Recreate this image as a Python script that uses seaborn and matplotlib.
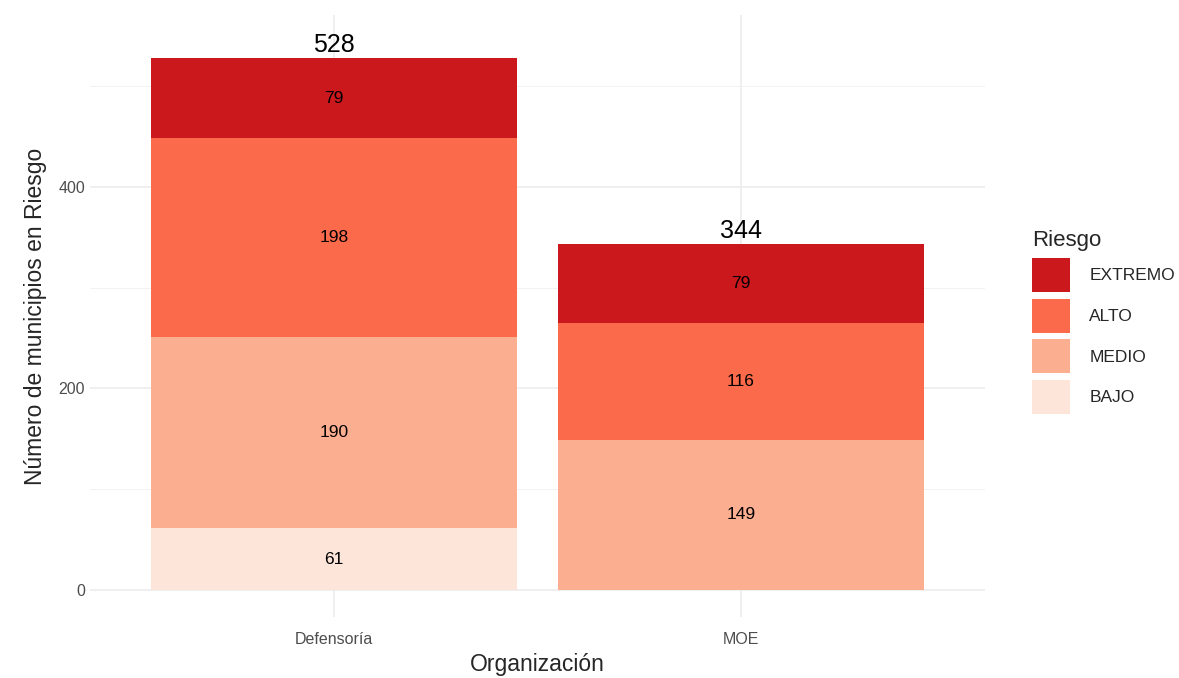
import pandas as pd
import seaborn as sns
import numpy as np
import matplotlib
matplotlib.use('Agg')
import matplotlib.pyplot as plt
from matplotlib.ticker import MultipleLocator

# Data
organizaciones = ['Defensoría', 'MOE']
niveles = ['EXTREMO', 'ALTO', 'MEDIO', 'BAJO']
bajo = [61, 0]
medio = [190, 149]
alto = [198, 116]
extremo = [79, 79]
colores = ['#CB181D', '#FB6A4A', '#FCAE91', '#FEE5D9']

df = pd.DataFrame({
    'Organizacion': organizaciones * 4,
    'Riesgo': ['BAJO'] * 2 + ['MEDIO'] * 2 + ['ALTO'] * 2 + ['EXTREMO'] * 2,
    'n': bajo + medio + alto + extremo,
})

sns.set_style('white')
plt.rcParams['font.family'] = ['Liberation Sans', 'DejaVu Sans']

fig = plt.figure(figsize=(11.79, 6.78), dpi=100)
ax = fig.add_axes([90 / 1179, 1 - 617 / 678, (985 - 90) / 1179, (617 - 15) / 678])

sns.histplot(data=df, x='Organizacion', weights='n', hue='Riesgo',
             hue_order=niveles, palette=colores, multiple='stack',
             discrete=True, shrink=0.9, linewidth=0, alpha=1, ax=ax)

# segment labels
capas = [bajo, medio, alto, extremo]
for i in range(len(organizaciones)):
    base = 0
    for capa in capas:
        v = capa[i]
        if v > 0:
            ax.text(i, base + v / 2, str(v), ha='center', va='center', fontsize=12.5, color='black')
        base += v
    ax.text(i, base + 1, str(base), ha='center', va='bottom', fontsize=18, color='black')

ax.set_xlim(-0.6, 1.6)
ax.set_ylim(-27, 571)
ax.yaxis.set_major_locator(MultipleLocator(200))
ax.yaxis.set_minor_locator(MultipleLocator(100))
ax.set_axisbelow(True)
ax.grid(True, which='major', color='#EBEBEB', linewidth=1.1)
ax.grid(True, which='minor', axis='y', color='#F2F2F2', linewidth=0.7)
for s in ax.spines.values():
    s.set_visible(False)
ax.tick_params(axis='both', length=0, labelsize=11.5, labelcolor='#4D4D4D')
ax.tick_params(axis='x', pad=11)
ax.set_xlabel('Organización', fontsize=16.5, labelpad=4)
ax.set_ylabel('Número de municipios en Riesgo', fontsize=16.5, labelpad=8)

sns.move_legend(ax, loc='center left', bbox_to_anchor=(1.035, 0.49), frameon=False,
                title='Riesgo', fontsize=12.5, title_fontsize=16,
                handlelength=2.2, handleheight=2.6, labelspacing=0.4,
                handletextpad=1.1, alignment='left')

fig.savefig('out.png', dpi=100)
